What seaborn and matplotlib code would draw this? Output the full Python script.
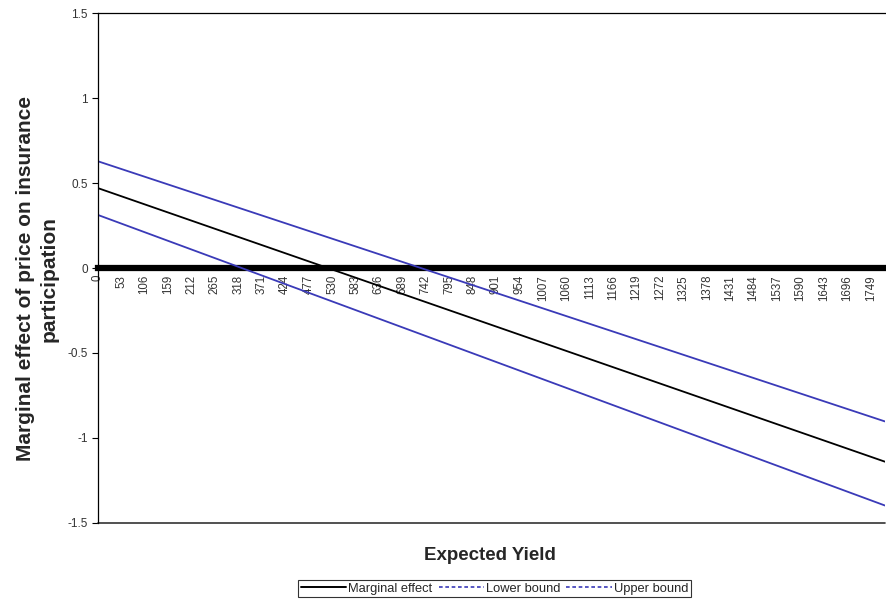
import numpy as np
import pandas as pd
import matplotlib
matplotlib.use("Agg")
import matplotlib.pyplot as plt
from matplotlib.lines import Line2D
import seaborn as sns

# ---- data ----
expected_yield = [0, 1781]
marginal_effect = [0.471, -1.140]
lower_bound = [0.313, -1.398]
upper_bound = [0.629, -0.903]
x_tick_values = list(range(0, 1750, 53))
y_tick_values = [-1.5, -1, -0.5, 0, 0.5, 1, 1.5]
y_tick_labels = ["-1.5", "-1", "-0.5", "0", "0.5", "1", "1.5"]
series_names = ["Marginal effect", "Lower bound", "Upper bound"]

df = pd.DataFrame({
    "Expected Yield": expected_yield * 3,
    "value": marginal_effect + lower_bound + upper_bound,
    "series": [series_names[0]] * 2 + [series_names[1]] * 2 + [series_names[2]] * 2,
})

sns.set_style("white")
plt.rcParams["font.family"] = ["Liberation Sans", "DejaVu Sans"]

BLUE = "#3a3ab8"
palette = {series_names[0]: "black", series_names[1]: BLUE, series_names[2]: BLUE}

fig = plt.figure(figsize=(8.86, 6.02), dpi=100)
ax = fig.add_axes([0.1103, 0.1315, 0.8885, 0.8465])

sns.lineplot(data=df, x="Expected Yield", y="value", hue="series",
             palette=palette, linewidth=1.3, legend=False, ax=ax)

ax.set_xlim(expected_yield[0], expected_yield[-1])
ax.set_ylim(-1.5, 1.5)

# y axis
ax.set_yticks(y_tick_values)
ax.set_yticklabels(y_tick_labels, fontsize=8.5, color="#333333")
ax.tick_params(axis="y", direction="out", length=4, width=0.8, color="black", pad=3, left=True)

# x axis at y=0, thick
ax.spines["bottom"].set_position(("data", 0))
ax.spines["bottom"].set_linewidth(4.5)
ax.spines["bottom"].set_color("black")
ax.spines["bottom"].set_zorder(1)
ax.set_xticks(x_tick_values)
ax.set_xticklabels([str(v) for v in x_tick_values], rotation=90, fontsize=8.3, color="#333333")
ax.tick_params(axis="x", length=0, pad=5)

for s in ["left", "top"]:
    ax.spines[s].set_visible(True)
    ax.spines[s].set_color("black")
    ax.spines[s].set_linewidth(0.9)
ax.spines["right"].set_visible(False)

# bottom border of plot area
ax.plot([0, 1], [0, 0], transform=ax.transAxes, color="#333333", lw=1.2, clip_on=False)

ax.set_xlabel("Expected Yield", fontsize=13.5, fontweight="bold")
ax.xaxis.set_label_coords(0.498, -0.047)
ax.set_ylabel("Marginal effect of price on insurance\nparticipation", fontsize=15,
              fontweight="bold", linespacing=1.3)
ax.yaxis.set_label_coords(-0.050, 0.479)

handles = [
    Line2D([], [], color="black", lw=1.4),
    Line2D([], [], color=BLUE, lw=1.2, ls=(0, (2.2, 1.6))),
    Line2D([], [], color=BLUE, lw=1.2, ls=(0, (2.2, 1.6))),
]
leg = fig.legend(handles, series_names, loc="center", bbox_to_anchor=(0.558, 0.0224),
                 ncol=3, fontsize=9.3, frameon=True, fancybox=False, handlelength=3.5,
                 handletextpad=0.15, columnspacing=0.5, borderpad=0.2, borderaxespad=0)
leg.get_frame().set_edgecolor("black")
leg.get_frame().set_linewidth(0.8)

fig.savefig("out.png", dpi=100)
